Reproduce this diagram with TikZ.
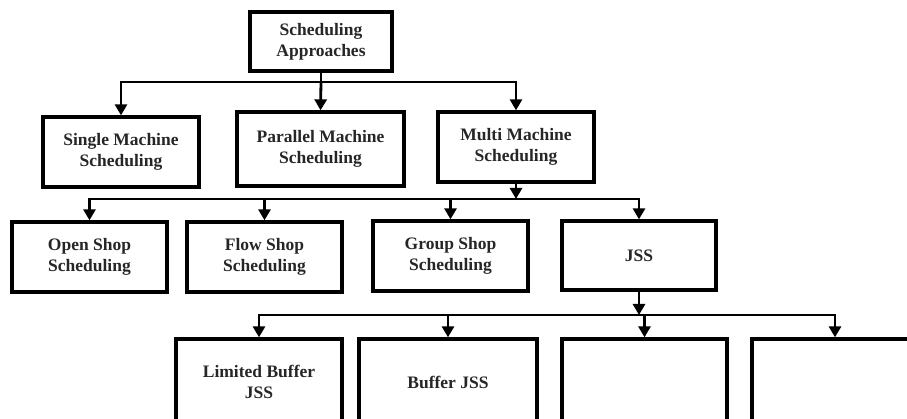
\documentclass[tikz,border=0pt]{standalone}
\usepackage{fontspec}
\setmainfont{Liberation Serif}
\usetikzlibrary{arrows.meta, positioning}
\tikzstyle{box} = [rectangle, draw=black, line width=3.3pt, minimum width=155pt, minimum height=70pt, align=center, font=\fontsize{17.5}{21}\selectfont\bfseries, text=black!85, inner sep=2pt]
\tikzstyle{line} = [line width=2.8pt]
\tikzstyle{arrow} = [line width=2.8pt, -{Triangle[length=11pt,width=12pt]}]

\begin{document}
\begin{tikzpicture}[x=1pt, y=-1pt]
\useasboundingbox (0,0) rectangle (907,419);
\clip (0,0) rectangle (907,419);

% Nodes
\node (root) [box, minimum width=142pt, minimum height=59pt] at (321,41.5) {Scheduling\\Approaches};

\node (single) [box, minimum width=156pt] at (121,152) {Single Machine\\Scheduling};
\node (parallel) [box, minimum width=167pt, minimum height=74pt] at (320.5,149) {Parallel Machine\\Scheduling};
\node (multi) [box, minimum width=156pt] at (516,147) {Multi Machine\\Scheduling};

\node (open) [box] at (89.5,257) {Open Shop\\Scheduling};
\node (flow) [box] at (264.5,257) {Flow Shop\\Scheduling};
\node (group) [box] at (450.5,256) {Group Shop\\Scheduling};
\node (jss) [box, minimum width=154pt, minimum height=69pt] at (639,255.5) {JSS};

\node (limited) [box, minimum width=166pt, minimum height=86pt] at (259,382) {Limited Buffer\\JSS};
\node (buffer) [box, minimum width=178pt, minimum height=86pt] at (448,382) {Buffer JSS};
\node (third) [box, minimum width=165pt, minimum height=86pt] at (644.5,382) {};
\node (fourth) [box, minimum width=166pt, minimum height=86pt] at (835,382) {};

% Bus lines
\coordinate (bus1) at (0,82);
\coordinate (bus2) at (0,199);
\coordinate (bus3) at (0,315);

% Level 1
\draw [line] (root.south) -- (root.south |- bus1);
\draw [arrow] (root.south |- bus1) -| (single.north);
\draw [arrow] (root.south |- bus1) -- (parallel.north);
\draw [arrow] (root.south |- bus1) -| (multi.north);

% Level 2
\draw [arrow] (multi.south) -- (multi.south |- bus2);
\draw [arrow] (multi.south |- bus2) -| (open.north);
\draw [arrow] (multi.south |- bus2) -| (flow.north);
\draw [arrow] (multi.south |- bus2) -| (group.north);
\draw [arrow] (multi.south |- bus2) -| (jss.north);

% Level 3
\draw [arrow] (jss.south) -- (jss.south |- bus3);
\draw [arrow] (jss.south |- bus3) -| (limited.north);
\draw [arrow] (jss.south |- bus3) -| (buffer.north);
\draw [arrow] (jss.south |- bus3) -| (third.north);
\draw [arrow] (jss.south |- bus3) -| (fourth.north);

\end{tikzpicture}
\end{document}
